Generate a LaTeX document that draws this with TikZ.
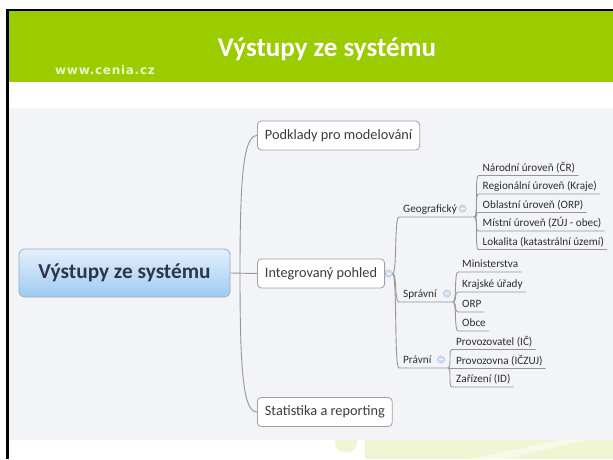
\documentclass[tikz,border=0pt]{standalone}
\usepackage{fontspec}
\setmainfont{Carlito}
\newfontfamily\webfont[LetterSpace=6]{DejaVu Sans}
\definecolor{hdrgreen}{RGB}{154,204,0}
\definecolor{bgc}{RGB}{242,244,247}
\definecolor{swc}{RGB}{240,246,212}
\definecolor{swl}{RGB}{247,250,232}
\definecolor{lineg}{RGB}{150,150,150}
\definecolor{boxg}{RGB}{160,160,160}
\definecolor{txtone}{RGB}{60,60,60}
\definecolor{txttwo}{RGB}{45,45,45}
\definecolor{roottop}{RGB}{228,240,252}
\definecolor{rootbot}{RGB}{158,202,242}
\definecolor{rootbd}{RGB}{150,172,196}
\definecolor{roottxt}{RGB}{45,55,70}
\definecolor{webtxt}{RGB}{236,246,200}
\definecolor{markf}{RGB}{205,220,240}
\definecolor{markd}{RGB}{180,198,224}
\tikzset{
  ln/.style={draw=lineg, line width=0.9pt},
  lonebox/.style={draw=boxg, fill=white, rounded corners=4pt, line width=0.8pt,
    minimum height=29pt, inner xsep=7.5pt, inner ysep=0pt,
    font=\fontsize{14.3}{16}\selectfont, text=txtone, anchor=west},
  ulnode/.style={inner sep=0pt, anchor=base west, font=\fontsize{11.2}{13}\selectfont, text=txttwo},
  rootbox/.style={draw=rootbd, line width=0.8pt, rounded corners=6pt, minimum width=211pt,
    minimum height=48pt, top color=roottop, bottom color=rootbot,
    font=\bfseries\fontsize{21.3}{24}\selectfont, text=roottxt},
  foldmark/.style={circle, minimum size=7.5pt, inner sep=0pt, fill=markf, draw=markd, line width=0.4pt,
    path picture={\draw[white, line width=0.8pt] ([xshift=-2pt]path picture bounding box.center) -- ([xshift=2pt]path picture bounding box.center);}},
}
\newcommand\ulbr[2]{\draw[ln] (#1) .. controls +(4,0) and +(-4,0) .. ([shift={(-4pt,-4.5pt)}]#2.base west) -- ([shift={(3pt,-4.5pt)}]#2.base east);}
\begin{document}
\begin{tikzpicture}[x=1pt,y=-1pt]
\useasboundingbox (0,0) rectangle (613,459);
\fill[white] (0,0) rectangle (613,459);
% bottom decoration
\fill[swc, rounded corners=9pt] (335,430) rectangle (357,452);
\fill[swc] (365,440) rectangle (613,459);
\fill[swl] (470,459) -- (560,440) -- (585,440) -- (505,459) -- cycle;
% header and background
\fill[hdrgreen] (8,10) rectangle (613,82);
\fill[bgc] (8,108) rectangle (613,440);
\draw[black, line width=2.6pt] (7.3,459) -- (7.3,10) -- (613,10);
\node[font=\bfseries\fontsize{27}{30}\selectfont, text=white, anchor=base] (title) at (327,56) {Výstupy ze systému};
\node[font=\webfont\bfseries\fontsize{12}{14}\selectfont, text=webtxt, anchor=base west, inner sep=0pt] (web) at (55,74) {www.cenia.cz};
% level 0 and 1
\node[rootbox] (root) at (124.5,273) {Výstupy ze systému};
\node[lonebox] (pod) at (257,135.5) {Podklady pro modelování};
\node[lonebox] (int) at (257,273.5) {Integrovaný pohled};
\node[lonebox] (stat) at (257,412) {Statistika a reporting};
\node[foldmark] (mi) at (388.5,273.5) {};
\coordinate (jone) at (240,273.5);
\draw[ln] (root.east) -- (int.west);
\draw[ln] (jone) .. controls (240,180) and (243,135.5) .. (pod.west);
\draw[ln] (jone) .. controls (240,370) and (243,412) .. (stat.west);
\draw[ln] (int.east) -- (mi.west);
% level 2
\node[ulnode] (geo) at (403,212.5) {Geografický};
\node[ulnode] (spr) at (403,297.5) {Správní};
\node[ulnode] (prv) at (403,363.5) {Právní};
\node[foldmark] (mg) at (462.5,208.5) {};
\node[foldmark] (ms) at (447,293.5) {};
\node[foldmark] (mp) at (441,359.5) {};
\coordinate (geoj) at (474.5,217);
\coordinate (sprj) at (453,302);
\coordinate (prvj) at (448,368);
\draw[ln] (mi.east) .. controls +(5,0) and +(-5,0) .. ([shift={(-4pt,-4.5pt)}]geo.base west) -- (geoj);
\draw[ln] (mi.east) .. controls +(5,0) and +(-5,0) .. ([shift={(-4pt,-4.5pt)}]spr.base west) -- (sprj);
\draw[ln] (mi.east) .. controls +(5,0) and +(-5,0) .. ([shift={(-4pt,-4.5pt)}]prv.base west) -- (prvj);
% level 3 - Geograficky
\node[ulnode] (ga) at (482.5,171) {Národní úroveň (ČR)};
\node[ulnode] (gb) at (482.5,189.5) {Regionální úroveň (Kraje)};
\node[ulnode] (gc) at (482.5,208) {Oblastní úroveň (ORP)};
\node[ulnode] (gd) at (482.5,226.5) {Místní úroveň (ZÚJ - obec)};
\node[ulnode] (ge) at (482.5,245) {Lokalita (katastrální území)};
\ulbr{geoj}{ga}\ulbr{geoj}{gb}\ulbr{geoj}{gc}\ulbr{geoj}{gd}\ulbr{geoj}{ge}
% level 3 - Spravni
\node[ulnode] (sa) at (462,267.5) {Ministerstva};
\node[ulnode] (sb) at (462,287.5) {Krajské úřady};
\node[ulnode] (sc) at (462,307.5) {ORP};
\node[ulnode] (sd) at (462,326.5) {Obce};
\ulbr{sprj}{sa}\ulbr{sprj}{sb}\ulbr{sprj}{sc}\ulbr{sprj}{sd}
% level 3 - Pravni
\node[ulnode] (pa) at (456,345) {Provozovatel (IČ)};
\node[ulnode] (pb) at (456,364) {Provozovna (IČZUJ)};
\node[ulnode] (pc) at (456,382.5) {Zařízení (ID)};
\ulbr{prvj}{pa}\ulbr{prvj}{pb}\ulbr{prvj}{pc}
\end{tikzpicture}
\end{document}
